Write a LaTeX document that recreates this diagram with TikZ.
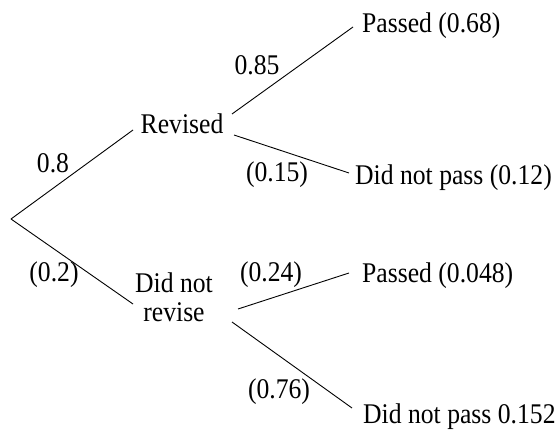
\documentclass[tikz,border=0pt]{standalone}
\usepackage{fontspec}
\setmainfont[FakeStretch=0.9]{Liberation Serif}
\begin{document}
\begin{tikzpicture}[x=1pt,y=-1pt,
  lbl/.style={inner sep=0pt,font=\fontsize{28.5}{34}\selectfont},
  branch/.style={line width=0.9pt,black}]
\useasboundingbox[fill=white] (0,0) rectangle (557,430);
% texts
\node[lbl,anchor=base west] (p1) at (362,33) {Passed (0.68)};
\node[lbl,anchor=base west] (f1) at (355,185) {Did not pass (0.12)};
\node[lbl,anchor=base west] (p2) at (362,283) {Passed (0.048)};
\node[lbl,anchor=base west] (f2) at (363,423) {Did not pass 0.152};
\node[lbl,anchor=base] (rev) at (182,134) {Revised};
\node[lbl,anchor=base] (dnr1) at (174,293) {Did not};
\node[lbl,anchor=base] (dnr2) at (174,322) {revise};
\node[lbl,anchor=base] (q08) at (53,173) {0.8};
\node[lbl,anchor=base] (q02) at (54,282) {(0.2)};
\node[lbl,anchor=base] (q085) at (257,75) {0.85};
\node[lbl,anchor=base] (q015) at (277,182) {(0.15)};
\node[lbl,anchor=base] (q024) at (271,282) {(0.24)};
\node[lbl,anchor=base] (q076) at (279,398) {(0.76)};
% connector end points
\coordinate (root) at (11,219);
\coordinate (revIn) at (133,130);
\coordinate (dnrIn) at (133,304);
\coordinate (revOutA) at (232,114);
\coordinate (revOutB) at (234,135);
\coordinate (dnrOutA) at (238,309);
\coordinate (dnrOutB) at (232,322);
\coordinate (p1In) at (353,27);
\coordinate (f1In) at (349,173);
\coordinate (p2In) at (349,273);
\coordinate (f2In) at (352,408);
% connectors
\draw[branch] (root) -- (revIn);
\draw[branch] (root) -- (dnrIn);
\draw[branch] (revOutA) -- (p1In);
\draw[branch] (revOutB) -- (f1In);
\draw[branch] (dnrOutA) -- (p2In);
\draw[branch] (dnrOutB) -- (f2In);
\end{tikzpicture}
\end{document}
